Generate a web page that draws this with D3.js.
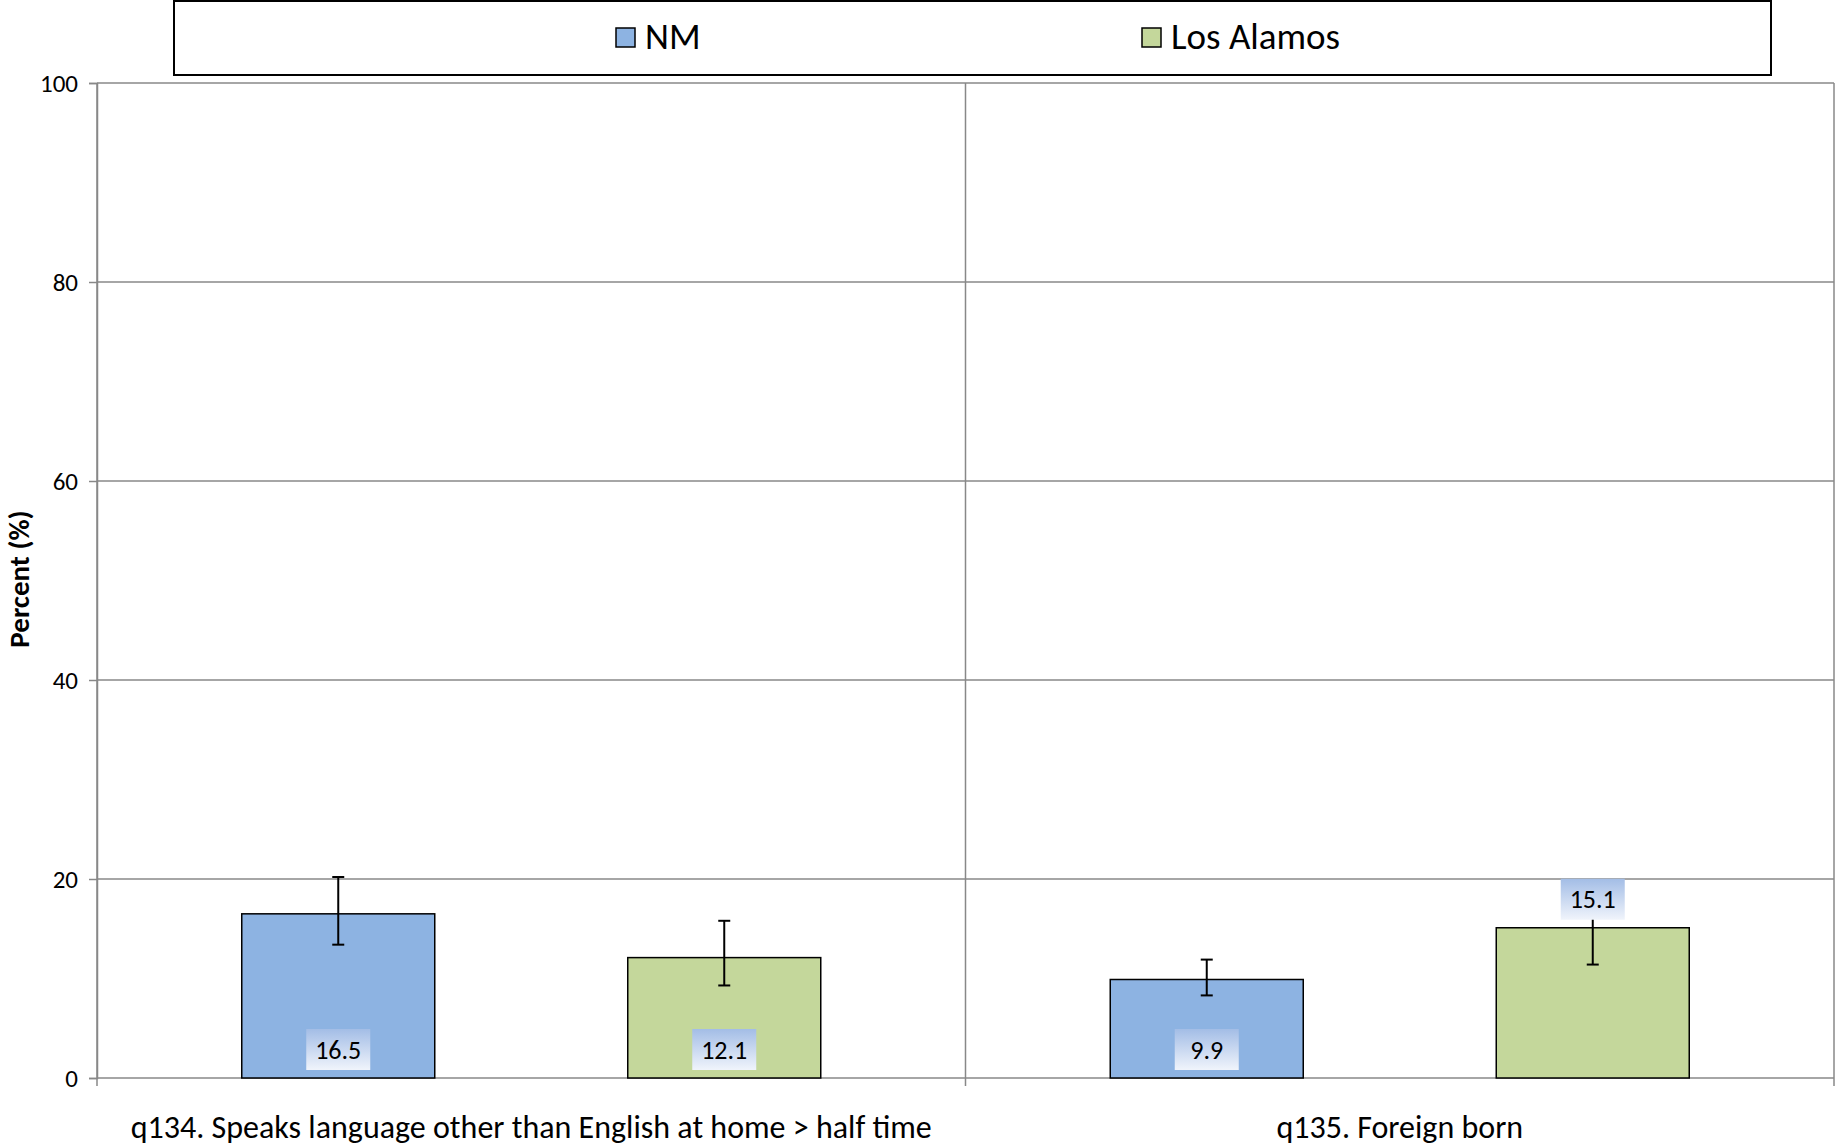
<!DOCTYPE html>
<html><head><meta charset="utf-8">
<script src="https://cdn.jsdelivr.net/npm/d3@7"></script>
<style>body{margin:0;background:#fff}svg{display:block}text{font-family:Carlito,Lato,"Liberation Sans",sans-serif}</style>
</head><body><svg id="c" width="1835" height="1147"></svg>
<script>
const categories = ["q134. Speaks language other than English at home > half time", "q135. Foreign born"];
const series = ["NM", "Los Alamos"];
const colors = ["#8DB3E2", "#C4D79B"];
const values = [[16.5, 12.1], [9.9, 15.1]];
const errLow = [[13.4, 9.3], [8.3, 11.4]];
const errHigh = [[20.2, 15.8], [11.9, 19.6]];
const labelPos = [["base", "base"], ["base", "top"]];
const yTicks = [0, 20, 40, 60, 80, 100];

const W = 1835, H = 1147;
const m = {l: 97, r: 1, t: 83, b: 69};
const svg = d3.select("#c");
const x0 = d3.scaleBand().domain(categories).range([m.l, W - m.r]);
const x1 = d3.scaleBand().domain(series).range([0, x0.bandwidth()]).paddingInner(0.5).paddingOuter(0.375);
const y = d3.scaleLinear().domain([0, 100]).range([H - m.b, m.t]);
const grey = "#888888";

// gridlines
svg.append("g").selectAll("line").data(yTicks.filter(d => d > 0)).join("line")
  .attr("x1", m.l).attr("x2", W - m.r).attr("y1", d => y(d)).attr("y2", d => y(d))
  .attr("stroke", grey).attr("stroke-width", 1.5);
// category separators
const seps = categories.map(c => x0(c) + x0.bandwidth()).concat([m.l]);
svg.append("g").selectAll("line").data(seps).join("line")
  .attr("x1", d => d).attr("x2", d => d).attr("y1", y(100)).attr("y2", y(0) + 8)
  .attr("stroke", grey).attr("stroke-width", 1.5);

// y axis
const yAxis = svg.append("g").attr("transform", `translate(${m.l},0)`)
  .call(d3.axisLeft(y).tickValues(yTicks).tickSize(8).tickPadding(11));
yAxis.select(".domain").attr("stroke", grey).attr("stroke-width", 1.5);
yAxis.selectAll(".tick line").attr("stroke", grey).attr("stroke-width", 1.5);
yAxis.selectAll(".tick text").attr("font-size", 25).attr("fill", "#000")
  .style("font-family", "Carlito,Lato,sans-serif");
// x axis
svg.append("line").attr("x1", m.l).attr("x2", W - m.r).attr("y1", y(0)).attr("y2", y(0))
  .attr("stroke", grey).attr("stroke-width", 1.5);

// category labels
svg.append("g").selectAll("text").data(categories).join("text")
  .attr("x", d => x0(d) + x0.bandwidth() / 2).attr("y", 1138)
  .attr("text-anchor", "middle").attr("font-size", 32).attr("fill", "#000").text(d => d);

// y title
svg.append("text").attr("transform", "translate(29,579) rotate(-90)")
  .attr("text-anchor", "middle").attr("font-size", 29).attr("font-weight", "bold").text("Percent (%)");

// gradient for labels
const defs = svg.append("defs");
const gr = defs.append("linearGradient").attr("id", "lg").attr("x1", 0).attr("y1", 0).attr("x2", 0).attr("y2", 1);
gr.append("stop").attr("offset", "0%").attr("stop-color", "#A3BDE6");
gr.append("stop").attr("offset", "100%").attr("stop-color", "#F0F4FB");

const flat = [];
categories.forEach((c, i) => series.forEach((s, j) => flat.push({c, s, j, v: values[i][j], lo: errLow[i][j], hi: errHigh[i][j], pos: labelPos[i][j]})));

// bars
svg.append("g").selectAll("rect").data(flat).join("rect")
  .attr("x", d => x0(d.c) + x1(d.s)).attr("width", x1.bandwidth())
  .attr("y", d => y(d.v)).attr("height", d => y(0) - y(d.v))
  .attr("fill", d => colors[d.j]).attr("stroke", "#000").attr("stroke-width", 1.5);

// error bars
const eb = svg.append("g").attr("stroke", "#000").attr("stroke-width", 2);
flat.forEach(d => {
  const cx = x0(d.c) + x1(d.s) + x1.bandwidth() / 2;
  eb.append("line").attr("x1", cx).attr("x2", cx).attr("y1", y(d.lo)).attr("y2", y(d.hi));
  eb.append("line").attr("x1", cx - 6).attr("x2", cx + 6).attr("y1", y(d.lo)).attr("y2", y(d.lo));
  eb.append("line").attr("x1", cx - 6).attr("x2", cx + 6).attr("y1", y(d.hi)).attr("y2", y(d.hi));
});

// value labels
const lb = svg.append("g");
flat.forEach(d => {
  const cx = x0(d.c) + x1(d.s) + x1.bandwidth() / 2;
  const bw = 64, bh = 41;
  const top = d.pos === "base" ? y(0) - 8 - bh : y(d.v) - bh - 8;
  lb.append("rect").attr("x", cx - bw / 2).attr("y", top).attr("width", bw).attr("height", bh).attr("fill", "url(#lg)");
  lb.append("text").attr("x", cx).attr("y", top + bh / 2 + 9).attr("text-anchor", "middle")
    .attr("font-size", 26).attr("fill", "#000").text(d.v.toFixed(1));
});

// legend
svg.append("rect").attr("x", 174).attr("y", 1).attr("width", 1597).attr("height", 74)
  .attr("fill", "#fff").attr("stroke", "#000").attr("stroke-width", 2);
const legX = [616, 1142];
series.forEach((s, j) => {
  svg.append("rect").attr("x", legX[j]).attr("y", 28).attr("width", 19).attr("height", 19)
    .attr("fill", colors[j]).attr("stroke", "#000").attr("stroke-width", 1.5);
  svg.append("text").attr("x", legX[j] + 29).attr("y", 49).attr("font-size", 37).attr("fill", "#000").text(s);
});
</script></body></html>
